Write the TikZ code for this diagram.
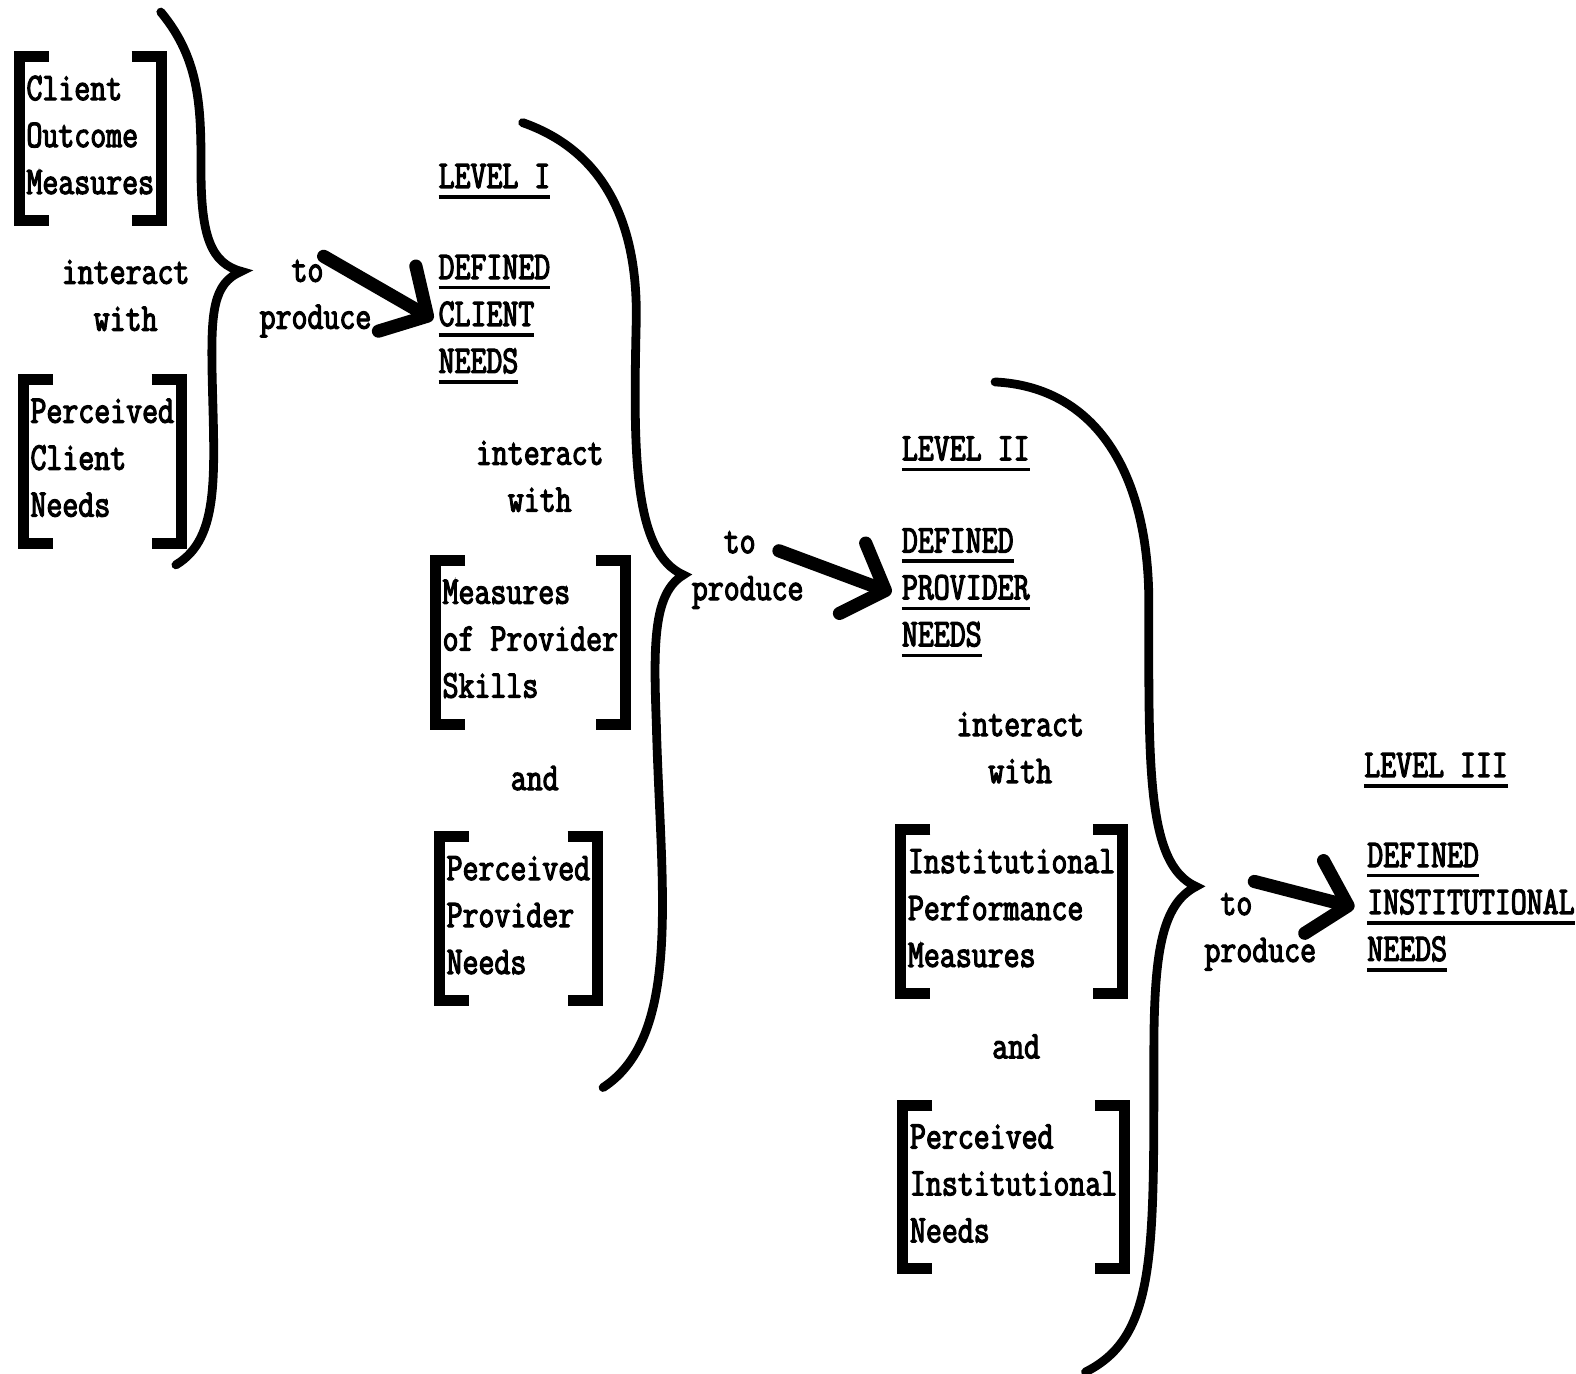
\documentclass[tikz,border=0pt]{standalone}
\usepackage{fontspec}
\newfontfamily\typewr[FakeStretch=0.79, FakeBold=3]{Latin Modern Mono}
\usetikzlibrary{positioning, calc, arrows.meta}
\newcommand{\lvlul}[1]{\vtop{\hbox{#1}\kern4pt\hrule height 1.9pt}}
\begin{document}
\begin{tikzpicture}[x=0.0201cm, y=-0.0201cm,
    every node/.style={font=\typewr\fontsize{22.3}{26.7}\selectfont, inner sep=0pt},
    sqbox/.style={align=left, inner xsep=4pt},
    brk/.style={line width=6.3pt},
    brc/.style={line width=5pt, line cap=round},
    bigarr/.style={line width=7.5pt, line cap=round, -{Straight Barb[length=0.7cm, width=1.5cm, round]}}]
    \useasboundingbox (0,0) rectangle (1568,1367);
    %riquadri tra parentesi
    \node[sqbox, anchor=base west] (com) at (19,193) {Client\\Outcome\\Measures};
    \node[sqbox, anchor=base west] (pcn) at (23,514) {Perceived\\Client\\Needs};
    \node[sqbox, anchor=base west] (mps) at (433,694) {Measures\\of Provider\\Skills};
    \node[sqbox, anchor=base west] (ppn) at (437,969) {Perceived\\Provider\\Needs};
    \node[sqbox, anchor=base west] (ipm) at (896,962) {Institutional\\Performance\\Measures};
    \node[sqbox, anchor=base west] (pin) at (898,1236) {Perceived\\Institutional\\Needs};
    %testi di collegamento
    \node[align=center, anchor=base] (iw0) at (125,329) {interact\\with};
    \node[align=center, anchor=base] (iw1) at (537,509) {interact\\with};
    \node[align=center, anchor=base] (iw2) at (1015,779) {interact\\with};
    \node[anchor=base] (and1) at (532,786) {and};
    \node[anchor=base] (and2) at (1011,1053) {and};
    \node[align=left, anchor=base west] (tp0) at (258,327) {\phantom{pr}to\\produce};
    \node[align=left, anchor=base west] (tp1) at (688,597) {\phantom{pr}to\\produce};
    \node[align=left, anchor=base west] (tp2) at (1198,957) {\phantom{p}to\\produce};
    %livelli
    \node[anchor=base west] (lv1) at (436,187) {\lvlul{LEVEL I}};
    \node[align=left, anchor=base west] (dcn) at (436,371) {\lvlul{DEFINED}\\\lvlul{CLIENT}\\\lvlul{NEEDS}};
    \node[anchor=base west] (lv2) at (897,458) {\lvlul{LEVEL II}};
    \node[align=left, anchor=base west] (dpn) at (897,643) {\lvlul{DEFINED}\\\lvlul{PROVIDER}\\\lvlul{NEEDS}};
    \node[anchor=base west] (lv3) at (1357,773) {\lvlul{LEVEL III}};
    \node[align=left, anchor=base west] (din) at (1360,956) {\lvlul{DEFINED}\\\lvlul{INSTITUTIONAL}\\\lvlul{NEEDS}};
    %parentesi quadre
    \foreach \b in {com,pcn,mps,ppn,ipm,pin} {
        \draw[brk] ([xshift=17pt, yshift=0.38cm]\b.north west) -- ([yshift=0.38cm]\b.north west)
            -- ([yshift=-0.52cm]\b.south west) -- ([xshift=17pt, yshift=-0.52cm]\b.south west);
        \draw[brk] ([xshift=-17pt, yshift=0.38cm]\b.north east) -- ([yshift=0.38cm]\b.north east)
            -- ([yshift=-0.52cm]\b.south east) -- ([xshift=-17pt, yshift=-0.52cm]\b.south east);
    }
    %parentesi graffe
    \draw[brc] (160,12) .. controls (200,60) and (200,110) .. (200,170)
        .. controls (200,235) and (210,262) .. (240,270)
        .. controls (212,282) and (210,310) .. (211,370)
        .. controls (213,470) and (220,535) .. (175,562);
    \draw[brc] (520,122) .. controls (600,150) and (635,220) .. (633,320)
        .. controls (630,450) and (630,550) .. (680,572)
        .. controls (650,590) and (650,640) .. (653,720)
        .. controls (657,880) and (680,1030) .. (600,1082);
    \draw[brc] (990,380) .. controls (1090,385) and (1143,470) .. (1143,600)
        .. controls (1143,760) and (1140,860) .. (1190,882)
        .. controls (1155,900) and (1148,950) .. (1148,1050)
        .. controls (1148,1250) and (1150,1330) .. (1080,1365);
    %frecce
    \coordinate (a1) at (322,255);
    \coordinate (a2) at (775,548);
    \coordinate (a3) at (1248,877);
    \draw[bigarr] (a1) -- ([xshift=-0.1cm]dcn.west);
    \draw[bigarr] (a2) -- ([xshift=-0.2cm]dpn.west);
    \draw[bigarr] (a3) -- ([xshift=-0.25cm]din.west);
\end{tikzpicture}
\end{document}
